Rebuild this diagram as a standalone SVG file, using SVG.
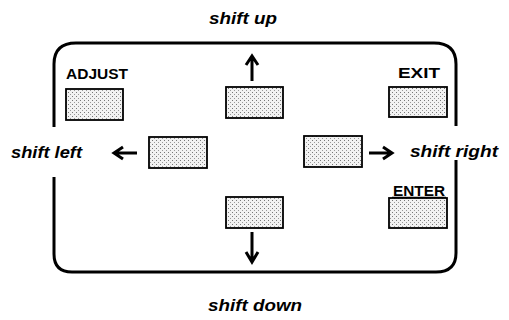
<svg xmlns="http://www.w3.org/2000/svg" width="509" height="320" viewBox="0 0 509 320">
<style>
.frame{fill:none;stroke:#000;stroke-width:3;stroke-linecap:butt}
.btn{fill:url(#dots);stroke:#000;stroke-width:1.8}
.lbl{font-family:"Liberation Sans",Arial,sans-serif;font-weight:bold;font-size:14px;fill:#000}
.cap{font-family:"Liberation Sans",Arial,sans-serif;font-weight:bold;font-style:italic;font-size:17px;fill:#000}
.arr{fill:none;stroke:#000;stroke-width:3;stroke-linecap:butt;stroke-linejoin:miter}
</style>
<defs>
<pattern id="dots" width="4" height="4" patternUnits="userSpaceOnUse">
<rect width="4" height="4" fill="#f2f2f2"/>
<rect x="0" y="0" width="1" height="1" fill="#777"/>
<rect x="2" y="2" width="1" height="1" fill="#999"/>
</pattern>
</defs>
<rect width="509" height="320" fill="#fff"/>
<g id="frame">
<path class="frame" d="M54,127 V64 Q54,43 76,43 H434 Q456,43 456,64 V126"/>
<path class="frame" d="M456,160 V253 Q456,272 436,272 H72 Q54,272 54,254 V177"/>
</g>
<g id="adjust">
<text class="lbl" x="66" y="79" textLength="62" lengthAdjust="spacingAndGlyphs">ADJUST</text>
<rect class="btn" x="66" y="89" width="57" height="31"/>
</g>
<g id="exit">
<text class="lbl" x="398" y="78" textLength="42" lengthAdjust="spacingAndGlyphs">EXIT</text>
<rect class="btn" x="389" y="87" width="58" height="30"/>
</g>
<g id="enter">
<text class="lbl" x="393" y="196" textLength="52" lengthAdjust="spacingAndGlyphs">ENTER</text>
<line x1="392" y1="197.5" x2="446" y2="197.5" stroke="#000" stroke-width="1.5"/>
<rect class="btn" x="389" y="198" width="58" height="30"/>
</g>
<g id="up">
<rect class="btn" x="226" y="87" width="57" height="31"/>
</g>
<g id="left">
<rect class="btn" x="149" y="137" width="58" height="31"/>
</g>
<g id="right">
<rect class="btn" x="304" y="136" width="58" height="31"/>
</g>
<g id="down">
<rect class="btn" x="226" y="197" width="57" height="31"/>
</g>
<g id="captions">
<text class="cap" x="209" y="24" textLength="68" lengthAdjust="spacingAndGlyphs">shift up</text>
<text class="cap" x="11" y="158" textLength="71" lengthAdjust="spacingAndGlyphs">shift left</text>
<text class="cap" x="410" y="157" textLength="88" lengthAdjust="spacingAndGlyphs">shift right</text>
<text class="cap" x="208" y="311" textLength="94" lengthAdjust="spacingAndGlyphs">shift down</text>
</g>
<g id="connectors">
<path class="arr" d="M252,81 V57 M246,65 L252,56 L258,65"/>
<path class="arr" d="M137,153 H114 M123,147 L114,153 L123,159"/>
<path class="arr" d="M369,153 H392 M383,147 L392,153 L383,159"/>
<path class="arr" d="M252,232 V261 M246,252 L252,262 L258,252"/>
</g>
</svg>
